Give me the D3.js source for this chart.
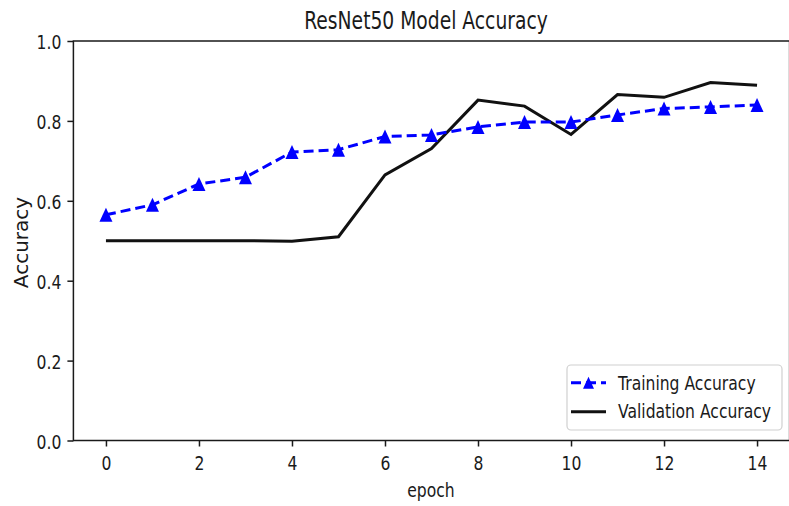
<!DOCTYPE html>
<html>
<head>
<meta charset="utf-8">
<script src="https://cdn.jsdelivr.net/npm/d3@7"></script>
<style>
  body { margin: 0; background: #fff; }
  text { font-family: "DejaVu Sans", sans-serif; fill: #1a1a1a; }
</style>
</head>
<body>
<div id="canvas"></div>
<script>
const epochs = [0, 1, 2, 3, 4, 5, 6, 7, 8, 9, 10, 11, 12, 13, 14];
const trainingAcc = [0.565, 0.590, 0.642, 0.659, 0.722, 0.728, 0.761, 0.765, 0.785, 0.797, 0.797, 0.815, 0.831, 0.835, 0.840];
const validationAcc = [0.500, 0.500, 0.500, 0.500, 0.499, 0.510, 0.665, 0.731, 0.852, 0.837, 0.766, 0.866, 0.859, 0.896, 0.889];
const xTicks = [0, 2, 4, 6, 8, 10, 12, 14];
const yTicks = [0.0, 0.2, 0.4, 0.6, 0.8, 1.0];

const canvas_width = 789;
const canvas_height = 506;
const squeeze = 'scale(0.78,1)'; // the source image is narrower than it is tall

const svg = d3.select('#canvas')
    .append('svg')
    .attr('width', canvas_width)
    .attr('height', canvas_height);

const x = d3.scaleLinear().domain([-0.7, 14.7]).range([73.4, 789.6]);
const y = d3.scaleLinear().domain([0, 1]).range([440.5, 41]);

// title
svg.append('text')
    .attr('transform', `translate(426,29) ${squeeze}`)
    .attr('text-anchor', 'middle')
    .style('font-size', '24px')
    .text('ResNet50 Model Accuracy');

// axes
const xAxis = svg.append('g')
    .attr('transform', `translate(0,${y(0)})`)
    .call(d3.axisBottom(x).tickValues(xTicks).tickSize(6).tickSizeOuter(0).tickFormat(d3.format('d')));
xAxis.select('.domain').remove();
xAxis.selectAll('line').attr('stroke', '#1a1a1a').attr('stroke-width', 1.5);
xAxis.selectAll('text')
    .attr('y', 0).attr('dy', 0)
    .attr('transform', `translate(0,29.5) ${squeeze}`)
    .style('font-size', '20px');

const yAxis = svg.append('g')
    .attr('transform', `translate(${x(-0.7)},0)`)
    .call(d3.axisLeft(y).tickValues(yTicks).tickSize(6).tickSizeOuter(0).tickFormat(d3.format('.1f')));
yAxis.select('.domain').remove();
yAxis.selectAll('line').attr('stroke', '#1a1a1a').attr('stroke-width', 1.5);
yAxis.selectAll('text')
    .attr('x', 0).attr('dy', 0)
    .attr('transform', `translate(-12,7.5) ${squeeze}`)
    .style('font-size', '20px');

// frame
svg.append('rect')
    .attr('x', x(-0.7)).attr('y', y(1))
    .attr('width', x(14.7) - x(-0.7)).attr('height', y(0) - y(1))
    .attr('fill', 'none').attr('stroke', '#1a1a1a').attr('stroke-width', 1.5);

// axis labels
svg.append('text')
    .attr('transform', `translate(431,497) ${squeeze}`)
    .attr('text-anchor', 'middle')
    .style('font-size', '20px')
    .text('epoch');

svg.append('text')
    .attr('transform', 'translate(28,242.5) rotate(-90)')
    .attr('text-anchor', 'middle')
    .style('font-size', '20px')
    .text('Accuracy');

const line = d3.line()
    .x((d, i) => x(epochs[i]))
    .y(d => y(d));

function triangle(w, h) {
    return `M0,${-h / 2}L${w / 2},${h / 2}L${-w / 2},${h / 2}Z`;
}

svg.append('path')
    .datum(validationAcc)
    .attr('d', line)
    .attr('fill', 'none')
    .attr('stroke', '#111')
    .attr('stroke-width', 3);

svg.append('path')
    .datum(trainingAcc)
    .attr('d', line)
    .attr('fill', 'none')
    .attr('stroke', 'blue')
    .attr('stroke-width', 3)
    .attr('stroke-dasharray', '10,5');

svg.selectAll('.marker')
    .data(trainingAcc)
    .enter()
    .append('path')
    .attr('class', 'marker')
    .attr('d', triangle(13, 14))
    .attr('transform', (d, i) => `translate(${x(epochs[i])},${y(d)})`)
    .attr('fill', 'blue');

// legend
const legend = svg.append('g');
legend.append('rect')
    .attr('x', 567).attr('y', 365).attr('width', 215).attr('height', 65)
    .attr('rx', 4)
    .attr('fill', 'white').attr('fill-opacity', 0.8)
    .attr('stroke', '#d0d0d0').attr('stroke-width', 1.2);

legend.append('line')
    .attr('x1', 571).attr('x2', 606).attr('y1', 382.7).attr('y2', 382.7)
    .attr('stroke', 'blue').attr('stroke-width', 3)
    .attr('stroke-dasharray', '10,5');
legend.append('path')
    .attr('d', triangle(11, 12))
    .attr('transform', 'translate(588.5,382.7)')
    .attr('fill', 'blue');
legend.append('text')
    .attr('transform', `translate(618,389.5) ${squeeze}`)
    .style('font-size', '20px')
    .text('Training Accuracy');

legend.append('line')
    .attr('x1', 571).attr('x2', 606).attr('y1', 411.7).attr('y2', 411.7)
    .attr('stroke', '#111').attr('stroke-width', 3);
legend.append('text')
    .attr('transform', `translate(618,418) ${squeeze}`)
    .style('font-size', '20px')
    .text('Validation Accuracy');
</script>
</body>
</html>
